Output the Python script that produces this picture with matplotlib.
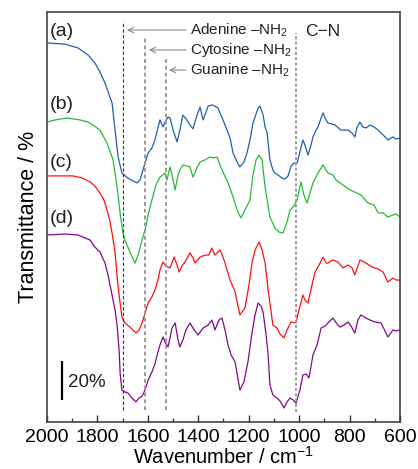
import matplotlib
matplotlib.use("Agg")
import matplotlib.pyplot as plt
from matplotlib.ticker import MultipleLocator

plt.rcParams['font.family'] = ['Liberation Sans', 'DejaVu Sans']
plt.rcParams['mathtext.fontset'] = 'custom'
plt.rcParams['mathtext.rm'] = 'Liberation Sans'
plt.rcParams['mathtext.it'] = 'Liberation Sans:italic'
plt.rcParams['mathtext.bf'] = 'Liberation Sans:bold'

# ---------------- data (stacked transmittance, %) ----------------
wn_a = [2000,1929,1877,1837,1810,1790,1770,1742,1730,1718,1703,1679,1651,1643,1631,1623,1611,1599,1584,1572,
        1552,1540,1532,1520,1512,1500,1484,1473,1461,1445,1433,1421,1405,1393,1381,1369,1361,1346,1334,1322,
        1314,1302,1286,1274,1262,1246,1235,1219,1207,1195,1183,1175,1163,1155,1143,1135,1127,1116,1104,1096,
        1084,1068,1056,1044,1032,1020,1008,997,985,977,965,953,945,933,925,913,905,897,886,870,
        858,834,806,790,779,771,759,747,735,719,703,687,667,648,636,628,616,600]
t_a = [194.4,193.8,191.8,188.2,184.1,179.5,173.8,163.6,149.7,135.9,127.7,125.1,123.1,122.6,124.1,127.7,132.8,137.9,140.5,144.6,
       154.9,151.3,153.8,156.4,155.9,149.7,143.6,149.7,157.4,154.9,152.3,150.3,157.4,161.5,154.9,159.0,162.0,162.6,162.0,161.0,
       158.5,154.9,149.7,145.6,137.9,133.3,130.8,133.3,137.9,144.6,153.3,156.4,161.0,162.0,157.4,151.3,148.2,134.4,129.2,127.7,
       126.7,125.1,124.6,126.2,131.3,132.8,132.8,138.5,144.6,142.0,136.9,142.0,146.2,149.7,151.3,155.9,158.5,155.9,153.3,152.8,
       152.3,149.7,149.7,148.2,146.2,150.8,153.8,151.3,150.8,152.3,151.3,149.7,147.2,144.6,145.6,146.2,145.1,145.6]

wn_b = [2000,1968,1921,1869,1837,1818,1790,1762,1738,1722,1710,1699,1691,1671,1651,1639,1623,1611,1599,1584,
        1568,1552,1540,1532,1524,1512,1504,1492,1480,1473,1461,1445,1433,1421,1405,1393,1373,1354,1338,1326,
        1314,1302,1282,1262,1246,1231,1215,1195,1183,1171,1159,1147,1135,1116,1096,1080,1064,1048,1036,1020,
        1008,993,981,969,957,945,925,905,886,866,854,826,798,771,755,727,703,687,667,648,628,616,600]
t_b = [153.8,154.9,155.9,154.9,153.8,152.3,149.7,143.1,134.4,120.5,107.2,96.9,93.3,87.2,81.5,85.6,93.3,98.5,106.2,113.8,
       121.5,125.6,126.7,127.7,124.1,130.8,126.7,119.0,126.7,129.2,131.8,131.3,130.8,125.6,130.3,133.3,134.4,135.9,135.4,135.9,
       131.8,128.2,122.6,115.4,108.7,104.6,108.7,113.8,126.7,134.4,136.9,134.4,120.5,105.1,99.5,97.4,96.9,102.6,108.7,110.8,
       113.8,123.1,116.4,112.3,117.4,122.6,127.7,131.8,127.7,126.7,124.1,121.5,119.0,117.4,116.4,112.3,111.3,107.2,107.2,105.1,
       106.2,106.7,105.1]

wn_c = [2000,1948,1897,1861,1829,1810,1790,1774,1762,1750,1742,1730,1718,1703,1691,1671,1647,1635,1623,1611,
        1599,1584,1572,1560,1552,1540,1528,1520,1512,1496,1484,1476,1465,1453,1433,1421,1413,1393,1373,1358,
        1346,1334,1314,1302,1294,1274,1254,1235,1215,1199,1187,1175,1159,1147,1135,1123,1116,1104,1088,1076,
        1060,1048,1032,1012,1001,985,977,965,949,937,921,905,893,886,866,846,826,806,790,779,
        759,735,711,687,667,648,628,616,600]
t_c = [126.2,126.2,126.2,125.1,123.1,121.0,117.4,113.8,108.7,102.6,96.9,86.7,69.2,53.8,50.8,48.7,45.6,47.2,50.8,55.9,
       61.0,64.1,67.7,72.8,77.9,82.0,80.0,79.5,79.0,84.6,80.5,76.9,80.0,82.0,86.7,84.1,81.5,84.6,85.6,85.6,
       89.2,85.6,88.2,84.6,81.5,72.8,66.7,54.9,58.5,70.3,81.5,88.2,92.3,88.2,81.5,67.7,61.0,49.7,48.2,45.1,
       43.1,47.2,51.3,50.8,57.4,65.1,62.6,61.0,70.3,76.9,80.5,84.6,81.5,81.5,83.1,82.0,79.0,80.5,79.0,75.4,
       83.1,81.5,79.5,78.5,76.9,71.8,73.8,72.8,72.8]

wn_d = [2000,1929,1877,1829,1810,1790,1770,1758,1742,1730,1722,1714,1710,1703,1691,1679,1663,1647,1635,1623,
        1611,1599,1584,1572,1560,1552,1540,1532,1520,1504,1492,1480,1473,1461,1449,1433,1421,1401,1381,1361,
        1346,1334,1318,1306,1294,1282,1270,1254,1235,1219,1203,1187,1175,1163,1151,1143,1131,1123,1116,1104,
        1088,1076,1060,1048,1036,1024,1012,997,985,973,961,945,929,913,897,882,866,850,838,822,
        806,794,779,767,755,735,719,699,675,648,628,616,600]
t_d = [95.9,96.4,95.9,93.3,89.7,87.2,81.5,75.4,65.1,57.4,49.7,36.9,25.1,16.4,15.4,14.9,12.3,10.3,12.3,13.3,
       16.4,21.5,25.6,29.7,35.9,39.5,43.6,41.0,38.5,48.2,50.8,42.1,38.5,42.1,47.2,50.8,48.2,44.6,48.2,49.7,
       52.3,47.2,52.3,53.3,47.2,39.5,34.4,30.8,16.4,20.5,30.8,45.6,54.9,61.0,59.5,56.4,44.6,34.4,19.0,13.8,
       12.3,10.8,7.2,10.3,12.3,11.3,9.7,16.4,24.1,24.6,22.6,34.4,39.5,48.2,49.2,51.3,53.3,50.3,48.7,49.7,
       51.3,49.2,45.6,52.3,54.9,53.3,52.3,51.3,50.8,43.6,47.2,46.7,47.2]

series_labels = ['(a)', '(b)', '(c)', '(d)']
label_levels = [200.5, 162.6, 133.3, 104.6]
colors = ['#1f5fb0', '#22bb33', '#ff1010', '#800a8a']

marker_wn = [1700, 1610, 1530, 1012]
marker_top = [205.6, 196.9, 187.7, 199.5]
marker_names = ['Adenine \u2013NH$_2$', 'Cytosine \u2013NH$_2$', 'Guanine \u2013NH$_2$']
arrow_levels = [201.0, 190.8, 180.5]

xticks = [2000, 1800, 1600, 1400, 1200, 1000, 800, 600]

# ---------------- figure ----------------
fig = plt.figure(figsize=(4.18, 4.69), dpi=100)
ax = fig.add_axes([47/418, 47/469, 353/418, 410/469])

for wn, t, c in zip([wn_a, wn_b, wn_c, wn_d], [t_a, t_b, t_c, t_d], colors):
    ax.plot(wn, t, color=c, lw=0.9)

# dashed marker lines
ax.plot([marker_wn[0]]*2, [6.2, marker_top[0]], color='#333333', lw=0.8, ls=(0, (3, 2)))
for i in (1, 2):
    ax.plot([marker_wn[i]]*2, [6.2, marker_top[i]], color='#9a9a9a', lw=1.4, ls=(0, (2, 1.5)))
ax.plot([marker_wn[3]]*2, [5.1, marker_top[3]], color='#9a9a9a', lw=1.4, ls=(0, (1.5, 1.2)))

# arrows + annotation text
for i in range(3):
    ax.annotate('', xy=(marker_wn[i] - 17 if i == 0 else marker_wn[i] - 14, arrow_levels[i]),
                xytext=(1449, arrow_levels[i]),
                arrowprops=dict(arrowstyle='->', color='#8a8a8a', lw=0.8,
                                shrinkA=0, shrinkB=0, mutation_scale=10))
    ax.text(1433, arrow_levels[i], marker_names[i], fontsize=11, va='center', ha='left',
            color='#222222')
ax.text(977, 200.0, 'C\u2212N', fontsize=12.5, va='center', ha='left', color='#222222')

# series labels
for lab, lv in zip(series_labels, label_levels):
    ax.text(1988, lv, lab, fontsize=14, va='center', ha='left', color='#222222')

# scale bar
ax.plot([1940, 1940], [11.3, 31.3], color='black', lw=1.6, solid_capstyle='butt')
ax.text(1917, 20.5, '20%', fontsize=13.5, va='center', ha='left', color='#222222')

ax.set_xlim(2000, 600)
ax.set_ylim(0, 410 * 20 / 39)
ax.set_xticks(xticks)
ax.xaxis.set_minor_locator(MultipleLocator(100))
ax.tick_params(axis='x', which='major', direction='in', length=5, width=1.0,
               labelsize=14, pad=5, colors='#333333', labelcolor='black', top=False)
ax.tick_params(axis='x', which='minor', direction='in', length=3, width=0.9,
               colors='#333333', top=False)
ax.set_yticks([])
for s in ax.spines.values():
    s.set_color('#444444')
    s.set_linewidth(1.2)

ax.set_ylabel('Transmittance / %', fontsize=15.5, labelpad=6)
ax.set_xlabel('Wavenumber / cm$^{-1}$', fontsize=14.5, labelpad=0)

fig.savefig('out.png', dpi=100)
